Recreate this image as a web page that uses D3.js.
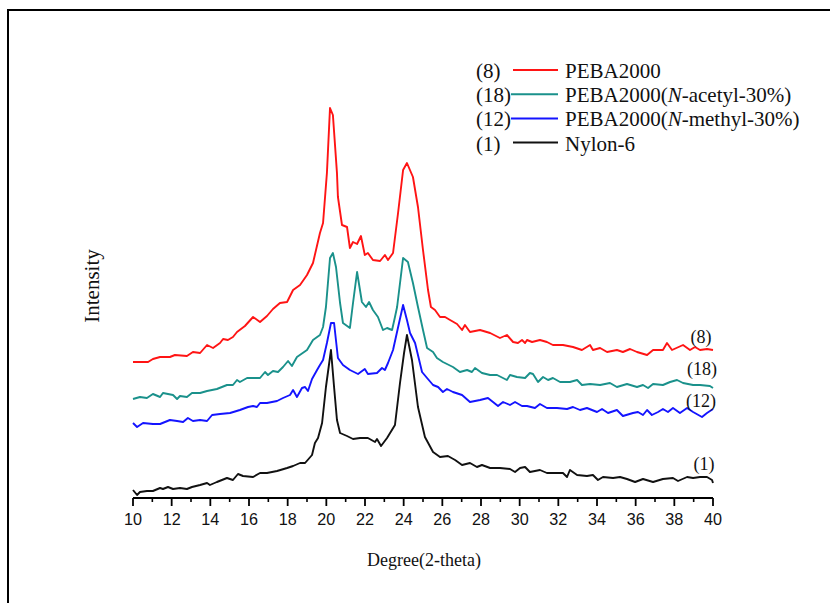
<!DOCTYPE html>
<html><head><meta charset="utf-8">
<script src="https://cdn.jsdelivr.net/npm/d3@7/dist/d3.min.js"></script>
<style>body{margin:0;background:#fff}svg{display:block}</style>
</head><body>
<svg id="c" width="830" height="603"></svg>
<script>
// Series data: [2-theta (deg), intensity (a.u.)]
const peba2000 = [[10.00,136],[10.78,136],[11.03,139],[11.40,141],[11.91,141],[12.17,143],[12.79,142],[13.10,146],[13.47,145],[13.83,153],[14.14,150],[14.50,155],[14.66,159],[14.91,158],[15.17,161],[15.38,166],[15.79,172],[16.21,181],[16.57,176],[16.93,182],[17.24,189],[17.60,195],[17.97,196],[18.28,208],[18.64,213],[19.00,223],[19.31,235],[19.67,265],[19.83,275],[20.03,325],[20.19,390],[20.34,383],[20.55,325],[20.60,301],[20.81,273],[21.07,271],[21.22,250],[21.38,256],[21.59,254],[21.79,262],[21.99,243],[22.15,245],[22.41,238],[22.78,237],[23.03,243],[23.19,238],[23.45,245],[23.71,285],[23.97,328],[24.17,335],[24.48,321],[24.74,291],[25.00,248],[25.26,208],[25.41,191],[25.62,188],[25.88,181],[26.14,181],[26.40,178],[26.76,174],[27.02,168],[27.17,173],[27.43,166],[27.95,168],[28.47,165],[28.98,160],[29.34,163],[29.66,156],[29.91,155],[30.12,158],[30.28,155],[30.38,158],[30.64,156],[31.05,158],[31.41,156],[31.72,153],[32.24,153],[32.76,151],[33.22,148],[33.64,153],[33.79,148],[34.16,150],[34.52,146],[35.03,148],[35.34,146],[35.71,149],[36.07,146],[36.59,143],[36.90,148],[37.41,148],[37.62,155],[37.88,148],[38.45,153],[38.81,148],[39.07,151],[39.33,148],[39.69,149],[40.00,148]];
const acetyl30 = [[10.00,99],[10.36,101],[10.72,100],[11.03,104],[11.40,101],[11.55,105],[12.07,103],[12.28,99],[12.43,102],[12.79,101],[13.05,105],[13.47,105],[13.83,107],[14.34,109],[14.86,113],[15.17,113],[15.38,118],[15.53,116],[15.90,120],[16.57,120],[16.83,126],[16.98,123],[17.24,127],[17.50,126],[17.76,131],[18.02,137],[18.22,132],[18.48,141],[19.00,148],[19.31,158],[19.67,163],[19.83,171],[19.98,191],[20.19,240],[20.34,245],[20.50,231],[20.71,195],[20.86,175],[21.22,170],[21.38,195],[21.59,226],[21.84,196],[22.05,191],[22.21,196],[22.41,188],[22.67,181],[22.93,168],[23.14,170],[23.40,168],[23.55,181],[23.66,191],[23.97,240],[24.22,236],[24.48,215],[24.74,191],[25.00,168],[25.21,150],[25.52,146],[25.72,140],[26.03,136],[26.55,131],[26.91,126],[27.28,128],[27.53,126],[27.69,130],[28.05,125],[28.47,123],[28.83,123],[29.34,118],[29.50,123],[29.86,121],[30.28,120],[30.53,125],[30.69,124],[30.95,116],[31.21,121],[31.47,118],[31.72,120],[32.09,116],[32.60,116],[32.97,118],[33.22,113],[33.64,114],[34.16,113],[34.67,115],[35.03,111],[35.55,114],[36.07,111],[36.38,113],[36.64,110],[36.90,114],[37.41,113],[37.78,116],[38.14,118],[38.45,115],[38.97,113],[39.33,113],[39.84,112],[40.00,110]];
const methyl30 = [[10.00,75],[10.21,71],[10.52,75],[11.03,74],[11.40,74],[11.91,78],[12.28,77],[12.59,76],[12.84,80],[13.10,77],[13.47,78],[13.83,77],[14.09,83],[14.50,84],[15.02,85],[15.53,88],[15.95,91],[16.21,92],[16.41,91],[16.57,95],[16.93,95],[17.45,97],[17.76,100],[18.12,103],[18.28,108],[18.48,101],[18.74,110],[18.90,111],[19.05,107],[19.26,119],[19.52,128],[19.67,133],[19.83,138],[20.03,155],[20.24,175],[20.40,175],[20.60,140],[20.86,133],[21.22,128],[21.64,124],[21.99,129],[22.15,124],[22.62,125],[22.88,130],[23.03,128],[23.19,135],[23.45,148],[23.76,175],[23.97,193],[24.17,178],[24.33,165],[24.59,155],[24.95,126],[25.21,120],[25.52,113],[25.78,111],[26.03,106],[26.24,109],[26.55,106],[27.02,103],[27.43,96],[27.95,98],[28.36,100],[28.62,96],[28.88,92],[29.14,96],[29.50,93],[29.76,96],[30.12,92],[30.38,92],[30.79,90],[31.05,94],[31.41,90],[31.93,90],[32.45,89],[32.76,91],[33.12,88],[33.48,90],[34.00,86],[34.26,89],[34.57,85],[35.03,88],[35.34,82],[35.86,85],[36.12,86],[36.38,83],[36.59,88],[36.84,83],[37.16,86],[37.41,89],[37.67,86],[37.93,90],[38.29,85],[38.66,90],[38.97,86],[39.43,81],[39.69,85],[40.00,89]];
const nylon6 = [[10.00,8],[10.21,3],[10.36,6],[10.72,7],[11.03,7],[11.40,10],[11.55,9],[11.81,11],[12.07,9],[12.43,10],[12.79,9],[13.05,11],[13.47,13],[13.83,15],[13.98,13],[14.34,16],[14.86,20],[15.17,18],[15.43,24],[15.69,22],[16.21,21],[16.57,25],[16.93,25],[17.45,27],[17.97,30],[18.28,32],[18.64,35],[18.90,35],[19.26,43],[19.41,55],[19.57,60],[19.78,75],[19.98,111],[20.24,148],[20.40,111],[20.55,78],[20.71,65],[21.07,62],[21.38,59],[21.74,60],[22.15,60],[22.52,56],[22.62,59],[22.83,52],[23.14,60],[23.55,73],[23.81,115],[24.02,145],[24.17,163],[24.43,138],[24.74,91],[25.10,61],[25.52,46],[25.88,41],[26.29,42],[26.66,38],[27.02,33],[27.43,35],[27.79,31],[28.05,33],[28.47,30],[28.98,30],[29.50,29],[29.76,26],[30.02,30],[30.28,31],[30.53,26],[31.05,28],[31.41,25],[31.93,25],[32.24,25],[32.45,21],[32.60,28],[32.97,23],[33.48,22],[33.79,23],[34.05,18],[34.31,21],[34.83,20],[35.19,21],[35.55,19],[35.97,16],[36.38,19],[36.90,16],[37.41,19],[37.93,20],[38.19,17],[38.66,21],[38.97,20],[39.33,21],[39.69,21],[39.95,18],[40.00,15]];

const seriesNames = ["PEBA2000", "PEBA2000(N-acetyl-30%)", "PEBA2000(N-methyl-30%)", "Nylon-6"];
const seriesTags = ["(8)", "(18)", "(12)", "(1)"];
const seriesColors = ["#ff1414", "#1a918b", "#1414ff", "#111111"];
const seriesData = [peba2000, acetyl30, methyl30, nylon6];
const xTicks = [10,12,14,16,18,20,22,24,26,28,30,32,34,36,38,40];

const svg = d3.select("#c");
// outer frame
svg.append("rect").attr("x",8).attr("y",10).attr("width",830).attr("height",600)
  .attr("fill","none").attr("stroke","#000").attr("stroke-width",2);

const x = d3.scaleLinear().domain([10,40]).range([133,713]);
const y = d3.scaleLinear().domain([0,400]).range([498,98]);

// x axis
const ax = svg.append("g").attr("transform","translate(0,498)");
ax.append("line").attr("x1",x(10)).attr("x2",x(40)).attr("stroke","#000").attr("stroke-width",2);
const minor = d3.range(11,40,2);
ax.selectAll("line.mn").data(minor).join("line").attr("class","mn")
  .attr("x1",d=>x(d)).attr("x2",d=>x(d)).attr("y1",0).attr("y2",4).attr("stroke","#000").attr("stroke-width",1.6);
ax.selectAll("line.mj").data(xTicks).join("line").attr("class","mj")
  .attr("x1",d=>x(d)).attr("x2",d=>x(d)).attr("y1",0).attr("y2",8).attr("stroke","#000").attr("stroke-width",1.8);
ax.selectAll("text").data(xTicks).join("text")
  .attr("x",d=>x(d)).attr("y",27).attr("text-anchor","middle")
  .attr("font-family","Liberation Sans, Arial, sans-serif").attr("font-size",16.5).attr("fill","#111")
  .attr("textLength",18).attr("lengthAdjust","spacingAndGlyphs")
  .text(d=>d);

svg.append("text").attr("x",424).attr("y",566).attr("text-anchor","middle")
  .attr("font-family","Liberation Serif, Times New Roman, serif").attr("font-size",18).attr("fill","#111")
  .text("Degree(2-theta)");
svg.append("text").attr("transform","translate(99,286) rotate(-90)").attr("text-anchor","middle")
  .attr("font-family","Liberation Serif, Times New Roman, serif").attr("font-size",21).attr("fill","#111")
  .text("Intensity");

const line = d3.line().x(d=>x(d[0])).y(d=>y(d[1]));
seriesData.forEach((s,i)=>{
  svg.append("path").datum(s).attr("d",line).attr("fill","none")
    .attr("stroke",seriesColors[i]).attr("stroke-width",1.9).attr("stroke-linejoin","round");
});

// curve tags
const tagPos = [[701,343],[702,375],[701,407],[704,470]];
seriesTags.forEach((t,i)=>{
  svg.append("text").attr("x",tagPos[i][0]).attr("y",tagPos[i][1]).attr("text-anchor","middle")
    .attr("font-family","Liberation Serif, Times New Roman, serif").attr("font-size",18).attr("fill","#111")
    .text(t);
});

// legend
const lg = svg.append("g").attr("font-family","Liberation Serif, Times New Roman, serif").attr("font-size",21).attr("fill","#111");
seriesNames.forEach((n,i)=>{
  const by = 78 + i*24.2;
  lg.append("text").attr("x",476).attr("y",by).text(seriesTags[i]);
  lg.append("line").attr("x1",i===1||i===2?511:513).attr("x2",558).attr("y1",by-8).attr("y2",by-8)
    .attr("stroke",seriesColors[i]).attr("stroke-width",2);
  const t = lg.append("text").attr("x",565).attr("y",by);
  const m = n.match(/^(.*\()N(-.*)$/);
  if (m) {
    t.append("tspan").text(m[1]);
    t.append("tspan").attr("font-style","italic").text("N");
    t.append("tspan").text(m[2]);
  } else t.text(n);
});
</script>
</body></html>
